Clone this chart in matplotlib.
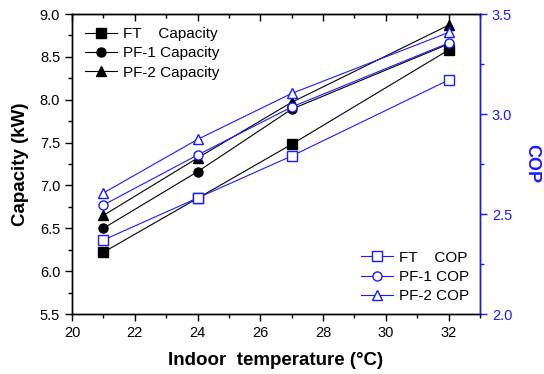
import numpy as np
import matplotlib
matplotlib.use("Agg")
import matplotlib.pyplot as plt
from matplotlib.ticker import MultipleLocator

plt.rcParams['font.family'] = ['Liberation Sans', 'DejaVu Sans']

# ---------------------------------------------------------------
# data
temp = [21, 24, 27, 32]

cap_ft = [6.22, 6.85, 7.48, 8.58]
cap_pf1 = [6.50, 7.16, 7.89, 8.65]
cap_pf2 = [6.65, 7.32, 7.97, 8.87]

cop_ft = [2.37, 2.58, 2.79, 3.17]
cop_pf1 = [2.545, 2.795, 3.035, 3.355]
cop_pf2 = [2.605, 2.873, 3.103, 3.408]

cap_labels = ["FT    Capacity", "PF-1 Capacity", "PF-2 Capacity"]
cop_labels = ["FT    COP", "PF-1 COP", "PF-2 COP"]

blue = "#1a1aff"
# ---------------------------------------------------------------

fig = plt.figure(figsize=(5.44, 3.74), dpi=100)
ax = fig.add_axes([72/544, 60/374, 408/544, 300/374])
ax2 = ax.twinx()

lw = 0.8
ms = 6.5
markers = ['s', 'o', '^']

for y, m, lab in zip([cap_ft, cap_pf1, cap_pf2], markers, cap_labels):
    ax.plot(temp, y, color='black', lw=lw, marker=m, ms=ms,
            mfc='black', mec='black', label=lab)

for y, m, lab in zip([cop_ft, cop_pf1, cop_pf2], markers, cop_labels):
    ax2.plot(temp, y, color=blue, lw=lw, marker=m, ms=ms,
             mfc='white', mec=blue, mew=1.0, label=lab)

ax.set_xlim(20, 33)
ax.set_ylim(5.5, 9.0)
ax2.set_ylim(2.0, 3.5)

ax.xaxis.set_major_locator(MultipleLocator(2))
ax.xaxis.set_minor_locator(MultipleLocator(1))
ax.yaxis.set_major_locator(MultipleLocator(0.5))
ax.yaxis.set_minor_locator(MultipleLocator(0.25))
ax2.yaxis.set_major_locator(MultipleLocator(0.5))
ax2.yaxis.set_minor_locator(MultipleLocator(0.25))
ax.yaxis.set_major_formatter(plt.FormatStrFormatter('%.1f'))
ax2.yaxis.set_major_formatter(plt.FormatStrFormatter('%.1f'))

ax.tick_params(axis='both', which='major', direction='out', length=5,
               width=1, labelsize=10.5)
ax.tick_params(axis='both', which='minor', direction='out', length=3, width=1)
ax2.tick_params(axis='y', which='major', direction='out', length=5, width=1,
                labelsize=10.5, colors=blue)
ax2.tick_params(axis='y', which='minor', direction='out', length=3, width=1,
                colors=blue)

# top ticks point inward
top = ax.secondary_xaxis('top')
top.xaxis.set_major_locator(MultipleLocator(2))
top.xaxis.set_minor_locator(MultipleLocator(1))
top.tick_params(axis='x', which='major', direction='in', length=5, width=1,
                labeltop=False)
top.tick_params(axis='x', which='minor', direction='in', length=3, width=1)

for s in ax.spines.values():
    s.set_linewidth(1.0)
for s in ax2.spines.values():
    s.set_linewidth(1.0)
ax2.spines['right'].set_color(blue)

ax.set_xlabel("Indoor  temperature (°C)", fontsize=13.5, fontweight='bold',
              labelpad=9)
ax.set_ylabel("Capacity (kW)", fontsize=13.5, fontweight='bold', labelpad=8)
ax2.set_ylabel("COP", fontsize=13, fontweight='bold', color=blue,
               rotation=270, va='bottom', labelpad=8)

ax.legend(loc='upper left', frameon=False, fontsize=11, handlelength=2.1,
          handletextpad=0.4, labelspacing=0.35, borderaxespad=0.45,
          bbox_to_anchor=(0.0, 1.0))
ax2.legend(loc='lower right', frameon=False, fontsize=11, handlelength=2.1,
           handletextpad=0.4, labelspacing=0.35, borderaxespad=0.3,
           bbox_to_anchor=(1.0, 0.0))

fig.savefig("out.png", dpi=100)
